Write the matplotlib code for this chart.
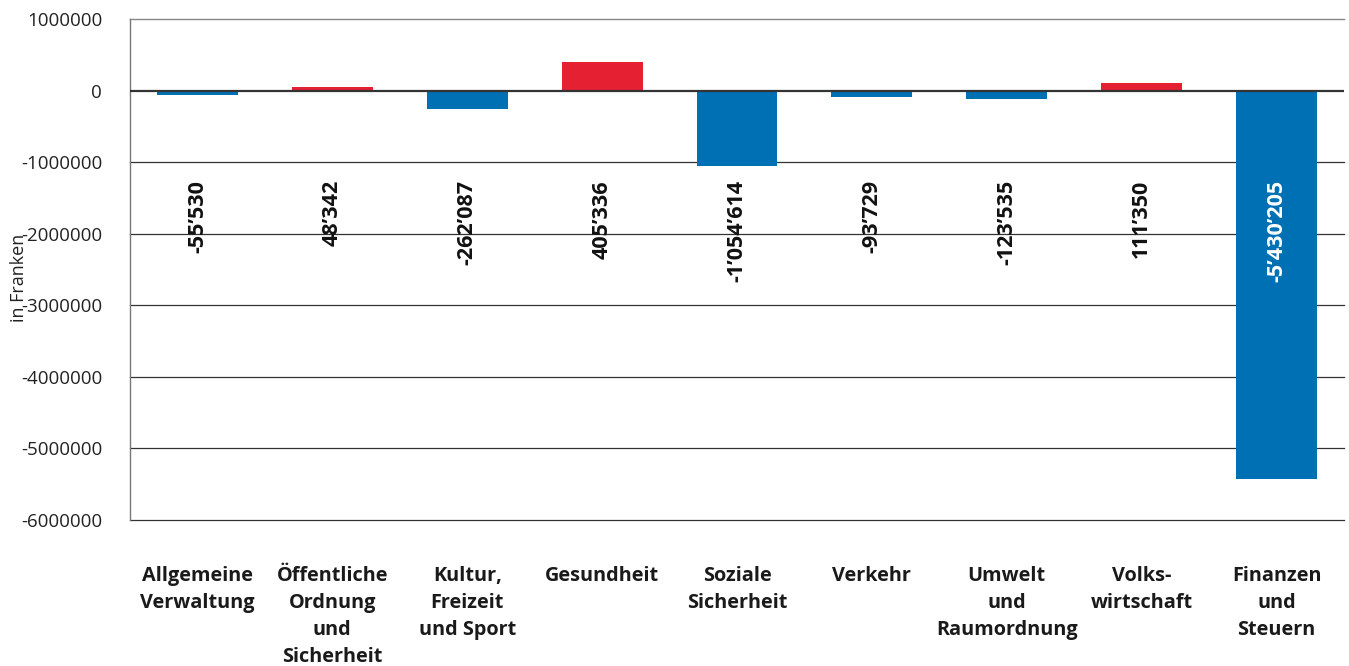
import matplotlib
matplotlib.use('Agg')
import matplotlib.pyplot as plt
import numpy as np

plt.rcParams['font.family'] = ['Open Sans', 'DejaVu Sans']

# Abweichungen je Funktion (in Franken)
categories = ['Allgemeine\nVerwaltung', 'Öffentliche\nOrdnung\nund\nSicherheit',
              'Kultur,\nFreizeit\nund Sport', 'Gesundheit', 'Soziale\nSicherheit',
              'Verkehr', 'Umwelt\nund\nRaumordnung', 'Volks-\nwirtschaft',
              'Finanzen\nund\nSteuern']
values = [-55530, 48342, -262087, 405336, -1054614, -93729, -123535, 111350, -5430205]
yticks = [1000000, 0, -1000000, -2000000, -3000000, -4000000, -5000000, -6000000]

blue = '#0070b4'
red = '#e42032'

def fmt(v):
    s = '{:,}'.format(abs(v)).replace(',', '\u2019')
    return ('-' if v < 0 else '') + s

fig = plt.figure(figsize=(13.49, 6.66), dpi=100)
ax = fig.add_axes([130 / 1349, 1 - 520 / 666, 1214 / 1349, 501 / 666])

x = np.arange(len(values))
colors = [red if v > 0 else blue for v in values]
ax.bar(x, values, width=0.6, color=colors, zorder=2)

ax.set_xlim(-0.5, len(values) - 0.5)
ax.set_ylim(-6000000, 1000000)
ax.set_yticks(yticks)
ax.set_yticklabels([str(t) for t in yticks], fontsize=13.5, color='#222222')
ax.tick_params(axis='y', length=0, pad=20)
ax.set_xticks([])

for t in yticks:
    if t == 0:
        ax.axhline(t, color='#333333', lw=1.6, zorder=3)
    elif t == 1000000:
        ax.axhline(t, color='#888888', lw=1.0, zorder=1, clip_on=False)
    else:
        ax.axhline(t, color='#333333', lw=0.9, zorder=1, clip_on=False)

for s in ['top', 'right', 'bottom']:
    ax.spines[s].set_visible(False)
ax.spines['left'].set_color('#777777')
ax.spines['left'].set_linewidth(1.0)

for i, v in enumerate(values):
    c = 'white' if v < -3000000 else '#111111'
    ax.text(i, -1250000, fmt(v), rotation=90, ha='center', va='top',
            fontsize=15.5, fontweight='bold', color=c, zorder=4)

for i, lab in enumerate(categories):
    ax.text(i, -6640000, lab, ha='center', va='top', fontsize=14.3,
            fontweight='bold', color='#1a1a1a', linespacing=1.47)

fig.text(19 / 1349, 1 - 278 / 666, 'in Franken', rotation=90, ha='center',
         va='center', fontsize=13, color='#222222')

fig.text(22 / 1349, 1 + 8 / 666, '(Abweichung Rechnung gegenüber Voranschlag)',
         fontsize=13.5, ha='left', va='baseline', color='#222222')

fig.savefig('out.png', dpi=100)
